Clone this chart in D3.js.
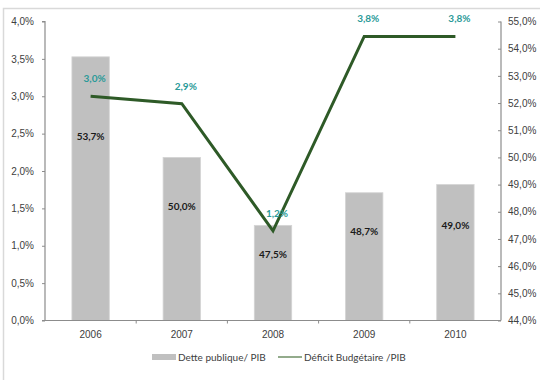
<!DOCTYPE html>
<html><head><meta charset="utf-8">
<script src="https://cdn.jsdelivr.net/npm/d3@7"></script>
<style>
body{margin:0;background:#fff;}
svg{display:block;font-family:Lato,"DejaVu Sans",sans-serif;}
</style></head>
<body><svg id="c" width="540" height="380"></svg>
<script>
const years = ["2006","2007","2008","2009","2010"];
const dette = [53.7, 50.0, 47.5, 48.7, 49.0];
const deficit = [3.0, 2.9, 1.2, 3.8, 3.8];
const leftTicks = [0,0.5,1,1.5,2,2.5,3,3.5,4];
const rightTicks = [44,45,46,47,48,49,50,51,52,53,54,55];
const seriesNames = ["Dette publique/ PIB","Déficit Budgétaire /PIB"];

const svg = d3.select("#c");
const fmt1 = v => d3.format(".1f")(v).replace(".", ",") + "%";

svg.append("rect").attr("x",3.5).attr("y",8.5).attr("width",600).attr("height",400)
  .attr("fill","#fff").attr("stroke","#d9d9d9").attr("stroke-width",1.5);

const L = 45, R = 501, T = 21.5, B = 320.5;
const x = d3.scaleBand().domain(years).range([L,R]);
const yL = d3.scaleLinear().domain([0,4]).range([B,T]);
const yR = d3.scaleLinear().domain([44,55]).range([B,T]);
const bw = x.bandwidth()*0.41;

// bars
svg.append("g").selectAll("rect").data(years).join("rect")
  .attr("x",(d)=>x(d)+x.bandwidth()/2-bw/2)
  .attr("y",(d,i)=>yR(dette[i]))
  .attr("width",bw)
  .attr("height",(d,i)=>B-yR(dette[i]))
  .attr("fill","#c0c0c0").attr("stroke","#d4d4d4").attr("stroke-width",0.8);

// axes
const tc = "#8c8c8c";
const gL = svg.append("g").attr("transform",`translate(${L},0)`)
  .call(d3.axisLeft(yL).tickValues(leftTicks).tickFormat(fmt1).tickSize(3).tickPadding(8));
const gR = svg.append("g").attr("transform",`translate(${R},0)`)
  .call(d3.axisRight(yR).tickValues(rightTicks).tickFormat(fmt1).tickSizeInner(-3).tickSizeOuter(0).tickPadding(7));
const gX = svg.append("g").attr("transform",`translate(0,${B})`)
  .call(d3.axisBottom(x).tickSize(0).tickPadding(10));
// x boundary ticks
svg.append("g").selectAll("line").data(years.slice(1)).join("line")
  .attr("x1",d=>x(d)).attr("x2",d=>x(d)).attr("y1",B).attr("y2",B+3)
  .attr("stroke",tc);
[gL,gR,gX].forEach(g=>{
  g.select(".domain").attr("stroke",tc).attr("stroke-width",1.2);
  g.selectAll(".tick line").attr("stroke",tc);
  g.selectAll("text").attr("fill","#404040").attr("font-size",10);
});
gL.select(".domain").attr("d",`M-3,${T}H0V${B}H-3`);
gR.select(".domain").attr("d",`M0,${T}V${B}`);
gX.select(".domain").attr("d",`M${L},0H${R}`);

// line
const cx = d => x(d)+x.bandwidth()/2;
svg.append("path").datum(years)
  .attr("d",d3.line().x(cx).y((d,i)=>yL(deficit[i])))
  .attr("fill","none").attr("stroke","#2e5a27").attr("stroke-width",3);

// labels
svg.append("g").selectAll("text").data(years).join("text")
  .attr("x",d=>cx(d)).attr("y",(d,i)=>{const t=yR(dette[i]);return t+(B-t)*0.3+4;})
  .attr("text-anchor","middle").attr("font-size",10).attr("font-weight","bold")
  .attr("fill","#1a1a1a").text((d,i)=>fmt1(dette[i]));
svg.append("g").selectAll("text").data(years).join("text")
  .attr("x",d=>cx(d)+4).attr("y",(d,i)=>yL(deficit[i])-14)
  .attr("text-anchor","middle").attr("font-size",10).attr("font-weight","bold")
  .attr("fill","#2a9a98").text((d,i)=>fmt1(deficit[i]));

// legend
const lg = svg.append("g").attr("font-size",10).attr("fill","#404040");
lg.append("rect").attr("x",152).attr("y",354).attr("width",24).attr("height",6).attr("fill","#c0c0c0");
lg.append("text").attr("x",178).attr("y",361).text(seriesNames[0]).attr("fill","#404040");
lg.append("line").attr("x1",278).attr("x2",302).attr("y1",357).attr("y2",357)
  .attr("stroke","#6f8f66").attr("stroke-width",1.5);
lg.append("text").attr("x",304).attr("y",361).text(seriesNames[1]).attr("fill","#404040");
</script></body></html>
